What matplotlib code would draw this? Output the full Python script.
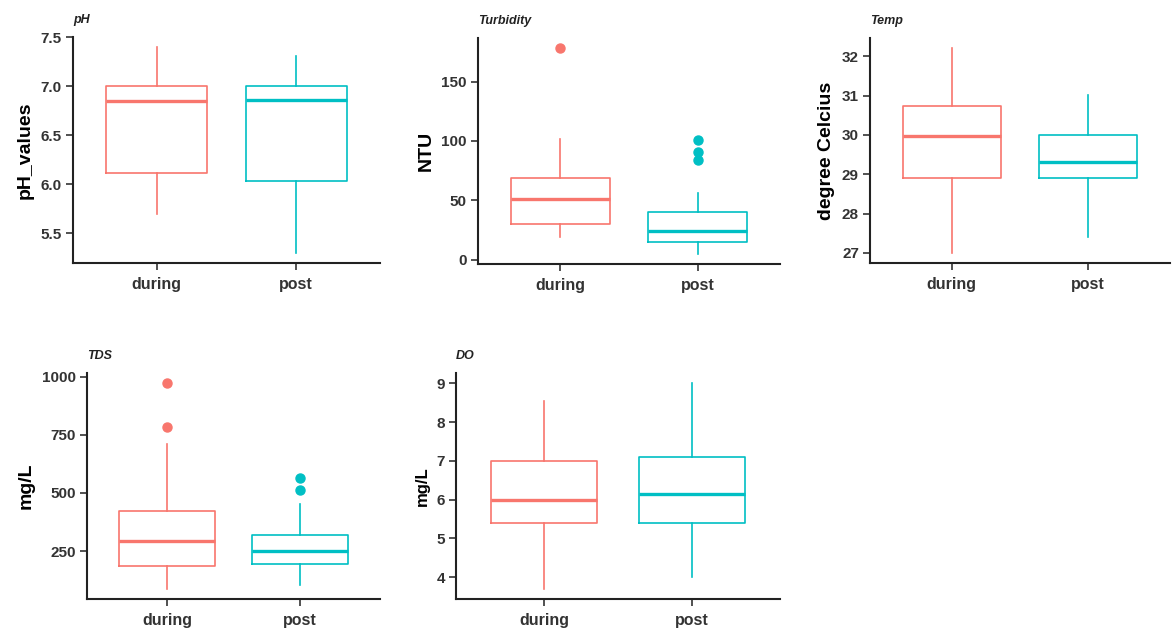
import matplotlib
matplotlib.use("Agg")
import matplotlib.pyplot as plt

plt.rcParams["font.family"] = ["Liberation Sans", "DejaVu Sans"]

# groups and colours
groups = ["during", "post"]
colors = ["#F8766D", "#00BFC4"]

# five-number summaries: [whisker low, q1, median, q3, whisker high]
ph_during = [5.70, 6.12, 6.85, 7.00, 7.40]
ph_post = [5.30, 6.03, 6.86, 7.00, 7.31]
ph_out = [[], []]

turb_during = [19, 30, 51, 69, 102]
turb_post = [5, 14.5, 24, 40, 56]
turb_out = [[178], [84, 91, 101]]

temp_during = [27.0, 28.91, 29.97, 30.74, 32.21]
temp_post = [27.4, 28.91, 29.30, 30.00, 31.01]
temp_out = [[], []]

tds_during = [88, 184, 293, 422, 711]
tds_post = [105, 195, 248, 320, 453]
tds_out = [[782, 971], [513, 563]]

do_during = [3.70, 5.40, 6.00, 7.00, 8.54]
do_post = [4.00, 5.40, 6.15, 7.11, 9.00]
do_out = [[], []]

ph_ticks = [5.5, 6.0, 6.5, 7.0, 7.5]
turb_ticks = [0, 50, 100, 150]
temp_ticks = [27, 28, 29, 30, 31, 32]
tds_ticks = [250, 500, 750, 1000]
do_ticks = [4, 5, 6, 7, 8, 9]

panels = [
    dict(title="pH", ylabel="pH_values", data=[ph_during, ph_post], out=ph_out,
         ticks=ph_ticks, fmt="{:.1f}", lsize=14, box=(73, 37, 380, 263)),
    dict(title="Turbidity", ylabel="NTU", data=[turb_during, turb_post], out=turb_out,
         ticks=turb_ticks, fmt="{:d}", lsize=14, box=(478, 38, 780, 264)),
    dict(title="Temp", ylabel="degree Celcius", data=[temp_during, temp_post], out=temp_out,
         ticks=temp_ticks, fmt="{:d}", lsize=14, box=(870, 38, 1170, 263)),
    dict(title="TDS", ylabel="mg/L", data=[tds_during, tds_post], out=tds_out,
         ticks=tds_ticks, fmt="{:d}", lsize=14, box=(87, 373, 380, 599)),
    dict(title="DO", ylabel="mg/L", data=[do_during, do_post], out=do_out,
         ticks=do_ticks, fmt="{:d}", lsize=12, box=(456, 373, 780, 599)),
]

W, H = 1176, 631
fig = plt.figure(figsize=(W / 100, H / 100), dpi=100)

for p in panels:
    x0, y0, x1, y1 = p["box"]
    ax = fig.add_axes([x0 / W, 1 - y1 / H, (x1 - x0) / W, (y1 - y0) / H])

    for i, (vals, outs) in enumerate(zip(p["data"], p["out"])):
        st = dict(whislo=vals[0], q1=vals[1], med=vals[2], q3=vals[3], whishi=vals[4],
                  fliers=outs, label=groups[i])
        c = colors[i]
        ax.bxp([st], positions=[i + 1], widths=0.72, showcaps=False, patch_artist=False,
               boxprops=dict(color=c, linewidth=1.2),
               whiskerprops=dict(color=c, linewidth=1.2),
               medianprops=dict(color=c, linewidth=2.4),
               flierprops=dict(marker="o", markerfacecolor=c, markeredgecolor=c,
                               markersize=6.5, linestyle="none"))

    # y range with 5% padding, like ggplot
    allv = [v for vals in p["data"] for v in vals] + [v for o in p["out"] for v in o]
    lo, hi = min(allv), max(allv)
    pad = (hi - lo) * 0.05
    ax.set_ylim(lo - pad, hi + pad)
    ax.set_xlim(0.4, 2.6)

    ax.set_xticks([1, 2])
    ax.set_xticklabels(groups, fontsize=11.5, fontweight="bold", color="#333333")
    ax.set_yticks(p["ticks"])
    ax.set_yticklabels([p["fmt"].format(t) for t in p["ticks"]], fontsize=11,
                       fontweight="bold", color="#333333")
    ax.tick_params(axis="both", length=5, width=1.2, color="#333333", pad=3)
    ax.tick_params(axis="x", pad=5)

    for s in ["top", "right"]:
        ax.spines[s].set_visible(False)
    for s in ["left", "bottom"]:
        ax.spines[s].set_linewidth(1.5)
        ax.spines[s].set_color("#222222")

    ax.set_ylabel(p["ylabel"], fontsize=p["lsize"], fontweight="bold", labelpad=5)
    ax.set_title(p["title"], loc="left", fontsize=9, fontstyle="italic",
                 fontweight="bold", color="#222222", pad=10)

fig.savefig("out.png", dpi=100)
